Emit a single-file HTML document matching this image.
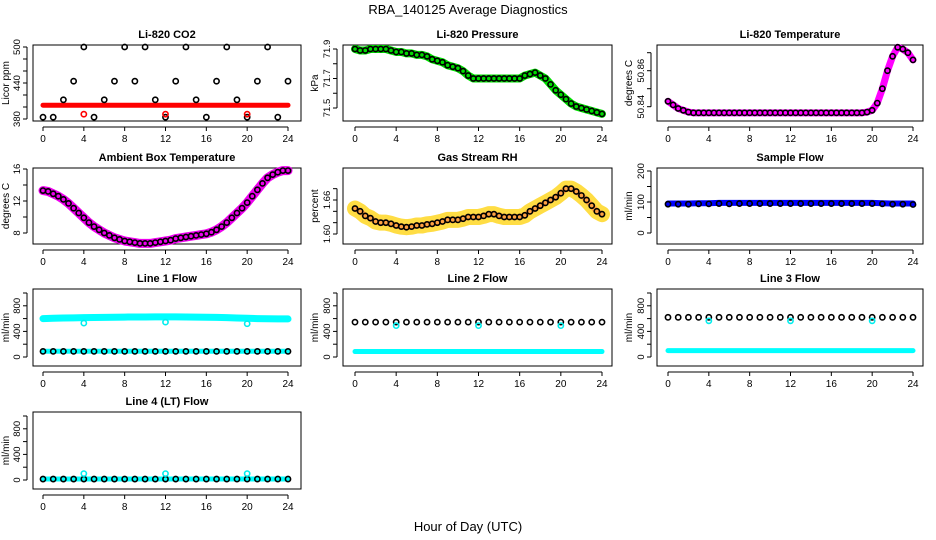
<!DOCTYPE html>
<html><head><meta charset="utf-8"><style>
body{margin:0;background:#fff}
svg{display:block;font-family:"Liberation Sans",sans-serif}
</style></head><body>
<svg id="chart" width="936" height="540" viewBox="0 0 936 540">
<text x="468" y="14" text-anchor="middle" font-size="13">RBA_140125  Average Diagnostics</text>
<text x="468" y="531" text-anchor="middle" font-size="13">Hour of Day (UTC)</text>
</svg>
<script>
const hh = [0,0.5,1,1.5,2,2.5,3,3.5,4,4.5,5,5.5,6,6.5,7,7.5,8,8.5,9,9.5,10,10.5,11,11.5,12,12.5,13,13.5,14,14.5,15,15.5,16,16.5,17,17.5,18,18.5,19,19.5,20,20.5,21,21.5,22,22.5,23,23.5,24];
const hrs = [0,1,2,3,4,5,6,7,8,9,10,11,12,13,14,15,16,17,18,19,20,21,22,23,24];
const xTicks = [0,4,8,12,16,20,24];
const outlierHours = [4,12,20];

const co2Red = [403,403,403,403,403,403,403,403,403,403,403,403,403,403,403,403,403,403,403,403,403,403,403,403,403];
const co2Black = [383,383,412,443,500,383,412,443,500,443,500,412,383,443,500,412,383,443,500,412,383,443,500,383,443];
const co2Outliers = [388,388,388];

const pressure = [71.90,71.89,71.89,71.90,71.90,71.90,71.90,71.89,71.88,71.88,71.87,71.87,71.86,71.86,71.85,71.83,71.82,71.81,71.79,71.78,71.77,71.75,71.72,71.70,71.70,71.70,71.70,71.70,71.70,71.70,71.70,71.70,71.70,71.72,71.73,71.74,71.72,71.70,71.66,71.62,71.59,71.56,71.53,71.51,71.50,71.49,71.48,71.47,71.46];
const liTemp = [50.843,50.841,50.839,50.838,50.837,50.8366,50.8366,50.8366,50.8366,50.8366,50.8366,50.8366,50.8366,50.8366,50.8366,50.8366,50.8366,50.8366,50.8366,50.8366,50.8366,50.8366,50.8366,50.8366,50.8366,50.8366,50.8366,50.8366,50.8366,50.8366,50.8366,50.8366,50.8366,50.8366,50.8366,50.8366,50.8366,50.8366,50.8366,50.837,50.838,50.842,50.850,50.860,50.868,50.873,50.872,50.870,50.866];
const ambient = [13.3,13.2,12.9,12.6,12.2,11.7,11.1,10.5,9.9,9.3,8.8,8.4,8.0,7.7,7.4,7.2,7.0,6.9,6.8,6.7,6.7,6.7,6.8,6.9,7.0,7.1,7.3,7.4,7.5,7.6,7.7,7.8,7.9,8.1,8.4,8.8,9.3,9.9,10.5,11.1,11.8,12.6,13.4,14.2,14.9,15.3,15.6,15.8,15.8];
const rh = [1.645,1.640,1.632,1.628,1.622,1.620,1.620,1.618,1.615,1.613,1.612,1.613,1.615,1.615,1.617,1.618,1.620,1.622,1.625,1.625,1.625,1.627,1.630,1.630,1.630,1.632,1.635,1.635,1.632,1.630,1.630,1.630,1.630,1.633,1.640,1.645,1.650,1.655,1.660,1.665,1.672,1.680,1.680,1.675,1.668,1.660,1.650,1.640,1.635];
const sampleBand = [95,95,95,96,96,97,97,97,97,97,97,97,97,97,97,97,97,97,97,97,97,96,95,95,95];
const sampleBlack = [93,93,93,94,94,95,94,95,95,95,95,95,95,95,95,95,95,95,95,95,95,94,93,93,92];

const l1High = [600,605,610,612,615,618,620,622,624,625,625,626,626,626,625,624,622,620,615,610,605,600,598,596,595];
const l1Low = [90,90,90,90,90,90,90,90,90,90,90,90,90,90,90,90,90,90,90,90,90,90,90,90,90];
const l1Black = [88,88,88,88,88,88,88,88,88,88,88,88,88,88,88,88,88,88,88,88,88,88,88,88,88];
const l1Out = [530,545,520];
const l2Black = [545,545,545,545,545,545,545,545,545,545,545,545,545,545,545,545,545,545,545,545,545,545,545,545,545];
const l2Low = [85,85,85,85,85,85,85,85,85,85,85,85,85,85,85,85,85,85,85,85,85,85,85,85,85];
const l2Out = [490,490,490];
const l3Black = [620,620,620,620,620,620,620,620,620,620,620,620,620,620,620,620,620,620,620,620,620,620,620,620,620];
const l3Low = [100,100,100,100,100,100,100,100,100,100,100,100,100,100,100,100,100,100,100,100,100,100,100,100,100];
const l3Out = [565,565,565];
const l4Black = [15,15,15,15,15,15,15,15,15,15,15,15,15,15,15,15,15,15,15,15,15,15,15,15,15];
const l4Out = [100,100,100];

const svg = document.getElementById('chart');
const NS = 'http://www.w3.org/2000/svg';
function mk(tag, attrs, parent){const e=document.createElementNS(NS,tag);for(const k in attrs)e.setAttribute(k,attrs[k]);(parent||svg).appendChild(e);return e;}
const cols=[{L:33,R:301,x0:43,x24:288,yt:5},{L:343,R:612,x0:355,x24:602,yt:314},{L:657,R:923,x0:668,x24:913,yt:628}];
const rows=[[45,121],[168,244],[289,366],[412,489]];

function panel(c,r,title,ylab,v1,p1,v2,p2,ticks,labels){
  const C=cols[c],T=rows[r][0],B=rows[r][1];
  const g=mk('g',{});
  
  
  const xs=h=>C.x0+(C.x24-C.x0)*h/24;
  const ys=v=>T+p1+(p2-p1)*(v-v1)/(v2-v1);
  const box=mk('rect',{x:C.L,y:T,width:C.R-C.L,height:B-T,fill:'none',stroke:'#000','stroke-width':1},g);
  
  
  const t=mk('text',{x:(C.L+C.R)/2,y:T-7,'text-anchor':'middle','font-size':11,'font-weight':'bold'},g);t.textContent=title;
  
  
  mk('line',{x1:C.x0,x2:C.x24,y1:B+6,y2:B+6,stroke:'#000'},g);
  xTicks.forEach(h=>{mk('line',{x1:xs(h),x2:xs(h),y1:B+6,y2:B+10,stroke:'#000'},g);
    const l=mk('text',{x:xs(h),y:B+21,'text-anchor':'middle','font-size':10},g);l.textContent=h;
    
    });
  const ax=C.L-6;
  mk('line',{x1:ax,x2:ax,y1:ys(ticks[0]),y2:ys(ticks[ticks.length-1]),stroke:'#000'},g);
  ticks.forEach(v=>mk('line',{x1:ax-4,x2:ax,y1:ys(v),y2:ys(v),stroke:'#000'},g));
  labels.forEach(v=>{const y=ys(+v);const l=mk('text',{x:ax-7,y:y,'text-anchor':'middle','font-size':9.5,transform:`rotate(-90 ${ax-7} ${y})`},g);l.textContent=v;
    
    });
  const yl=mk('text',{x:C.yt+4,y:(T+B)/2,'text-anchor':'middle','font-size':10,transform:`rotate(-90 ${C.yt+4} ${(T+B)/2})`},g);yl.textContent=ylab;
  
  
  return {g,xs,ys};
}
function band(P,xsArr,vals,color,w,name,op){
  const pl=mk('polyline',{points:vals.map((v,i)=>P.xs(xsArr[i])+','+P.ys(v)).join(' '),fill:'none',stroke:color,'stroke-width':w,'stroke-linejoin':'round','stroke-linecap':'round','stroke-opacity':op||1},P.g);
  
  
}
function pts(P,xsArr,vals,color,name,rad){
  vals.forEach((v,i)=>{const c=mk('circle',{cx:P.xs(xsArr[i]),cy:P.ys(v),r:rad||2.6,fill:'none',stroke:color,'stroke-width':1.6},P.g);
    
    });
}

let P;
P=panel(0,0,'Li-820 CO2','Licor ppm',500,2,380,74,[380,400,420,440,460,480,500],['380','440','500']);
band(P,hrs,co2Red,'#f00',5,'co2-red-band');
pts(P,hrs,co2Black,'#000','co2-point');
pts(P,outlierHours,co2Outliers,'#f00','co2-red-outlier');

P=panel(1,0,'Li-820 Pressure','kPa',71.9,4,71.5,63,[71.5,71.6,71.7,71.8,71.9],['71.5','71.7','71.9']);
band(P,hh,pressure,'#0d0',8,'pressure-green-band');
pts(P,hh,pressure,'#000','pressure-point');

P=panel(2,0,'Li-820 Temperature','degrees C',50.87,7.7,50.84,61.7,[50.84,50.85,50.86,50.87],['50.84','50.86']);
band(P,hh,liTemp,'#f0f',7,'temperature-magenta-band');
pts(P,hh,liTemp,'#000','temperature-point');

P=panel(0,1,'Ambient Box Temperature','degrees C',16,1,8,65,[8,10,12,14,16],['8','12','16']);
band(P,hh,ambient,'#e0e',9,'ambient-magenta-band');
pts(P,hh,ambient,'#000','ambient-point');

P=panel(1,1,'Gas Stream RH','percent',1.66,32,1.60,66,[1.60,1.62,1.64,1.66,1.68],['1.60','1.66']);
band(P,hh,rh,'#fd4',16,'rh-orange-band');
band(P,hh,rh,'#f84',6,'rh-red-core',0.7);
pts(P,hh,rh,'#000','rh-point');

P=panel(2,1,'Sample Flow','ml/min',200,3,0,65,[0,50,100,150,200],['0','100','200']);
band(P,hrs,sampleBand,'#00f',6,'sample-blue-band');
pts(P,hrs,sampleBlack,'#000','sample-point');

P=panel(0,2,'Line 1 Flow','ml/min',1000,4,0,68,[0,200,400,600,800,1000],['0','400','800']);
band(P,hrs,l1High,'#0ff',7,'line1-cyan-high');
band(P,hrs,l1Low,'#0ff',5,'line1-cyan-low');
pts(P,hrs,l1Black,'#000','line1-point');
pts(P,outlierHours,l1Out,'#0ee','line1-outlier');

P=panel(1,2,'Line 2 Flow','ml/min',1000,4,0,68,[0,200,400,600,800,1000],['0','400','800']);
band(P,hrs,l2Low,'#0ff',5,'line2-cyan-band');
pts(P,hrs,l2Black,'#000','line2-point');
pts(P,outlierHours,l2Out,'#0ee','line2-outlier');

P=panel(2,2,'Line 3 Flow','ml/min',1000,4,0,68,[0,200,400,600,800,1000],['0','400','800']);
band(P,hrs,l3Low,'#0ff',5,'line3-cyan-band');
pts(P,hrs,l3Black,'#000','line3-point');
pts(P,outlierHours,l3Out,'#0ee','line3-outlier');

P=panel(0,3,'Line 4 (LT) Flow','ml/min',1000,4,0,68,[0,200,400,600,800,1000],['0','400','800']);
band(P,hrs,l4Black,'#0ff',5,'line4-cyan-band');
pts(P,hrs,l4Black,'#000','line4-point');
pts(P,outlierHours,l4Out,'#0ee','line4-outlier');
</script>
</body></html>
